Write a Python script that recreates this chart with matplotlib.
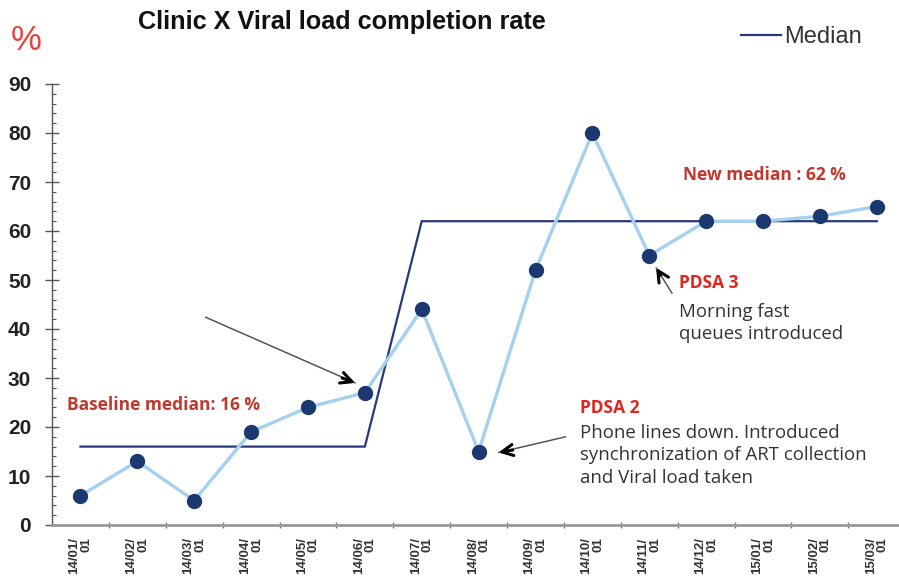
import numpy as np
import matplotlib.pyplot as plt
from matplotlib.ticker import MultipleLocator, FixedLocator

# data
months = ['14/01/', '14/02/', '14/03/', '14/04/', '14/05/', '14/06/', '14/07/', '14/08/',
          '14/09/', '14/10/', '14/11/', '14/12/', '15/01/', '15/02/', '15/03/']
rate = [6, 13, 5, 19, 24, 27, 44, 15, 52, 80, 55, 62, 62, 63, 65]
median_x = [0, 5, 6, 14]
median_y = [16, 16, 62, 62]

tick_labels = [m + '\n01' for m in months]
x = np.arange(len(months))

fig = plt.figure(figsize=(8.99, 5.78), dpi=100)
ax = fig.add_axes([52 / 899, 53 / 578, 847 / 899, 441 / 578])

ax.plot(median_x, median_y, color='#26397a', lw=1.6, zorder=2, label='Median')
ax.plot(x, rate, color='#a4d0f2', lw=2.4, zorder=3)
ax.plot(x, rate, 'o', color='#1c3870', ms=10, zorder=4)

ax.set_xlim(-0.5, 14.39)
ax.set_ylim(0, 90)

# axes styling
for s in ['top', 'right']:
    ax.spines[s].set_visible(False)
ax.spines['left'].set_color('#555555')
ax.spines['left'].set_linewidth(1.0)
ax.spines['bottom'].set_color('#999999')
ax.spines['bottom'].set_linewidth(2.0)

ax.yaxis.set_major_locator(MultipleLocator(10))
ax.yaxis.set_minor_locator(MultipleLocator(2))
ax.tick_params(axis='y', which='major', direction='inout', length=10, width=1,
               color='#555555', pad=10, labelsize=15)
ax.tick_params(axis='y', which='minor', direction='in', length=3, width=0.8, color='#555555')
for lab in ax.get_yticklabels():
    lab.set_fontweight('bold')
    lab.set_fontfamily('Liberation Sans')
    lab.set_color('#222222')

ax.xaxis.set_major_locator(FixedLocator(x))
ax.set_xticklabels(tick_labels, rotation=90, fontsize=9.5, fontweight='bold',
                   family='Liberation Sans', color='#333333', multialignment='right',
                   linespacing=1.0)
ax.xaxis.set_minor_locator(FixedLocator(x[:-1] + 0.5))
ax.tick_params(axis='x', which='major', length=0, pad=9)
ax.tick_params(axis='x', which='minor', direction='inout', length=4, width=1, color='#777777')

# title, % and legend
fig.text(342 / 899, 1 - 22 / 578, 'Clinic X Viral load completion rate', ha='center', va='center',
         fontsize=18.2, fontweight='bold', family='Liberation Sans', color='#111111')
fig.text(26 / 899, 1 - 40 / 578, '%', ha='center', va='center', fontsize=25,
         family='Liberation Sans', color='#e8433b')
leg = fig.legend(loc='center left', bbox_to_anchor=(720 / 899, 1 - 37 / 578), frameon=False,
                 prop={'family': 'Liberation Sans', 'size': 17}, handlelength=1.7,
                 handletextpad=0.1)
for t in leg.get_texts():
    t.set_color('#333333')

# annotations
red_dark = '#c0392f'
red = '#e0261f'
bold = dict(family='Open Sans', fontsize=12.5, fontweight='bold', va='center', ha='left')
reg = dict(family='Open Sans', fontsize=13.4, color='#333333', va='center', ha='left', linespacing=1.33)
ax.text(-0.23, 24.5, 'Baseline median: 16 %', color=red_dark, **bold)
ax.text(10.6, 71.4, 'New median : 62 %', color=red_dark, **bold)
ax.text(10.53, 49.4, 'PDSA 3', color=red, **bold)
ax.text(10.53, 41.2, 'Morning fast\nqueues introduced', **reg)
ax.text(8.79, 23.9, 'PDSA 2', color=red, **bold)
ax.text(8.79, 14.2, 'Phone lines down. Introduced\nsynchronization of ART collection\nand Viral load taken', **reg)


def arrow(start, end, head_from):
    ax.annotate('', xy=end, xytext=start,
                arrowprops=dict(arrowstyle='-', color='#555555', lw=1.1, shrinkA=0, shrinkB=0))
    ax.annotate('', xy=end, xytext=head_from,
                arrowprops=dict(arrowstyle='->,head_length=0.8,head_width=0.4', color='black',
                                lw=2.2, shrinkA=0, shrinkB=0))


arrow((2.2, 42.4), (4.83, 29.0), (4.6, 30.0))
arrow((8.53, 18.0), (7.35, 14.8), (7.6, 15.3))
arrow((10.4, 47.3), (10.12, 52.5), (10.2, 51.0))

fig.savefig('out.png', dpi=100)
